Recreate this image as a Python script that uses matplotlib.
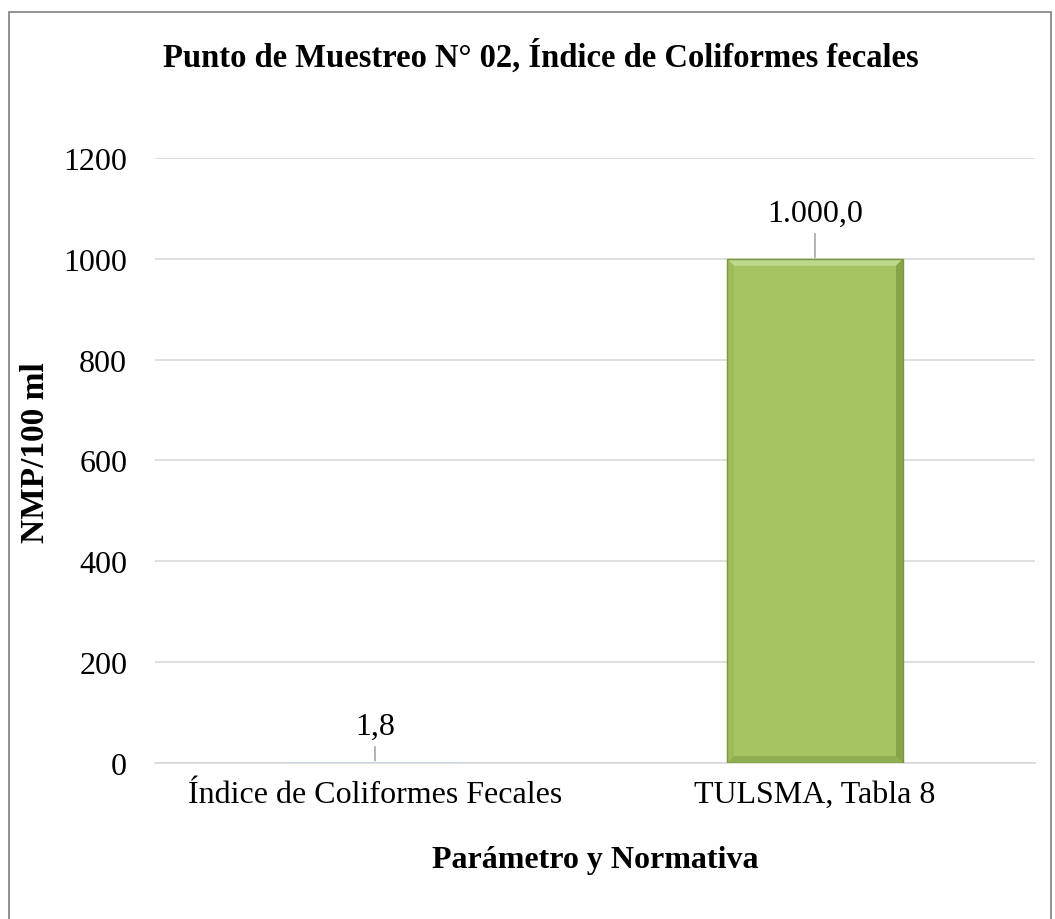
import numpy as np
import matplotlib.pyplot as plt
from matplotlib.patches import Rectangle, Polygon

## datos
categorias = ['Índice de Coliformes Fecales', 'TULSMA, Tabla 8']
valores = [1.8, 1000.0]
etiquetas = ['1,8', '1.000,0']
colores = ['#c6d4e3', '#a5c563']
yticks = [0, 200, 400, 600, 800, 1000, 1200]

plt.rcParams['font.family'] = ['Liberation Serif', 'DejaVu Serif']

fig = plt.figure(figsize=(10.55, 9.2), dpi=100)
ax = fig.add_axes([0.1469, 0.1696, 0.8341, 0.6576])
ax.set_xlim(-0.5, 1.5)
ax.set_ylim(0, 1200)

x = np.arange(len(categorias))
ancho = 0.4
barras = ax.bar(x, valores, width=ancho, color=colores, zorder=3)

# efecto bisel en la barra grande (aprox. 7 px)
bx = 7 / 440.0
by = 7 / 605.0 * 1200
for xi, v, c in zip(x, valores, colores):
    if v < 50:
        continue
    x0, x1 = xi - ancho / 2, xi + ancho / 2
    caras = [
        ([(x0, v), (x1, v), (x1 - bx, v - by), (x0 + bx, v - by)], '#bcd88a'),
        ([(x0, 0), (x1, 0), (x1 - bx, by), (x0 + bx, by)], '#8fae50'),
        ([(x0, 0), (x0, v), (x0 + bx, v - by), (x0 + bx, by)], '#9cbc5c'),
        ([(x1, 0), (x1, v), (x1 - bx, v - by), (x1 - bx, by)], '#86a349'),
    ]
    for pts, col in caras:
        ax.add_patch(Polygon(pts, closed=True, facecolor=col, edgecolor='none', zorder=4))
    ax.add_patch(Rectangle((x0, 0), ancho, v, fill=False, edgecolor='#7b9640', lw=1.0, zorder=5))

offsets = [15, 22]
for xi, v, lab, off in zip(x, valores, etiquetas, offsets):
    ax.annotate(lab, xy=(xi, v), xytext=(0, off), textcoords='offset points',
                ha='center', va='bottom', fontsize=23,
                arrowprops=dict(arrowstyle='-', color='#a6a6a6', lw=1.2,
                                shrinkA=2, shrinkB=1))

ax.set_yticks(yticks)
ax.set_xticks(x)
ax.set_xticklabels(categorias)
ax.tick_params(axis='y', length=0, labelsize=23, pad=20)
ax.tick_params(axis='x', length=0, labelsize=23, pad=12)
ax.yaxis.grid(True, color='#d9d9d9', lw=1.2, zorder=0)
for s in ['top', 'right', 'left']:
    ax.spines[s].set_visible(False)
ax.spines['bottom'].set_color('#d9d9d9')
ax.spines['bottom'].set_linewidth(1.2)

ax.set_ylabel('NMP/100 ml', fontsize=24, fontweight='bold', va='center')
ax.yaxis.set_label_coords(-0.136, 0.514)
ax.set_xlabel('Parámetro y Normativa', fontsize=23, fontweight='bold', labelpad=26)

fig.text(0.513, 0.938, 'Punto de Muestreo N° 02, Índice de Coliformes fecales',
         ha='center', va='center', fontsize=23.5, fontweight='bold')
fig.text(0.0, 1.012, 'Gráfico 30:', ha='left', va='center', fontsize=23, fontweight='bold')

# marco del grafico
fig.patches.append(Rectangle((0.0085, -0.05), 0.988, 1.036, transform=fig.transFigure,
                             fill=False, edgecolor='#7f7f7f', lw=1.2))

fig.savefig('out.png', dpi=100)
